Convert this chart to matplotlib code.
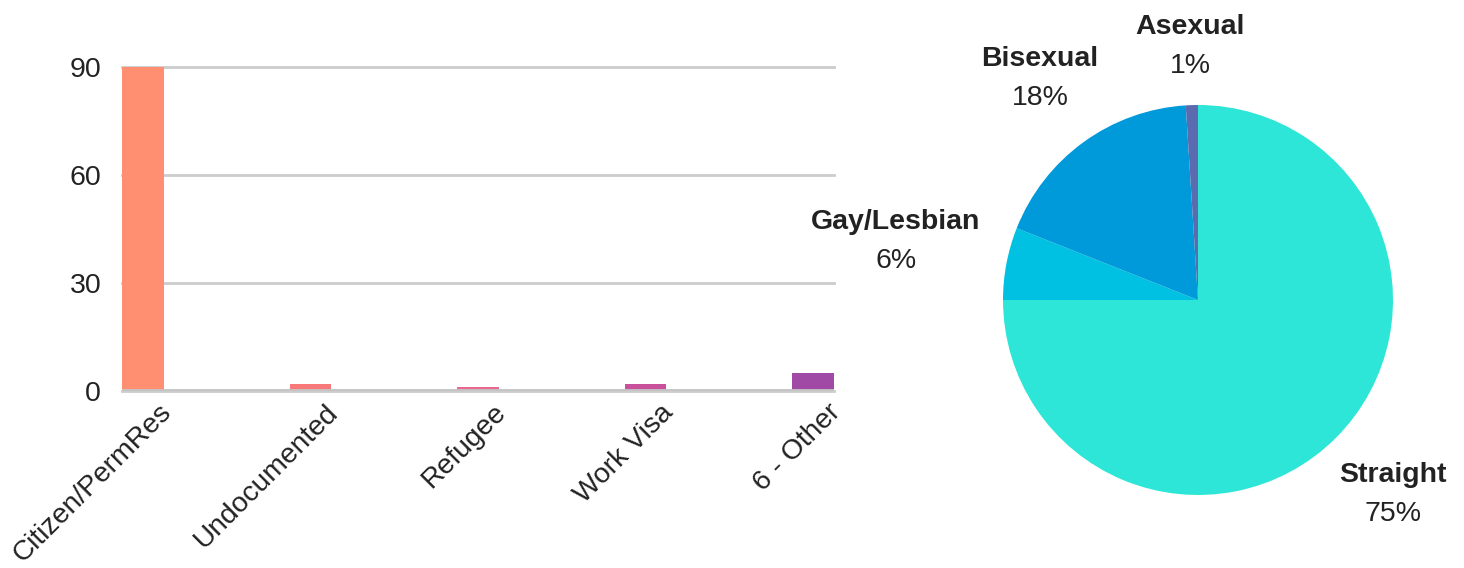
import matplotlib.pyplot as plt
import matplotlib.transforms as mtransforms

plt.rcParams['font.family'] = ['Liberation Sans', 'DejaVu Sans']

# bar chart data
status_labels = ["Citizen/PermRes", "Undocumented", "Refugee", "Work Visa", "6 - Other"]
status_counts = [90, 2, 1, 2, 5]
bar_colors = ["#ff8f70", "#f77979", "#e9688e", "#c9509b", "#a04aa6"]
y_ticks = [0, 30, 60, 90]

# pie chart data
orient_labels = ["Straight", "Gay/Lesbian", "Bisexual", "Asexual"]
orient_pct = [75, 6, 18, 1]
pie_colors = ["#2ee6d7", "#00c1e1", "#0099d9", "#5a6bb0"]
# label spots in pie units (x, y of name line)
label_spots = [(1.0, -0.895), (-1.55, 0.40), (-0.81, 1.235), (-0.04, 1.40)]

fig = plt.figure(figsize=(14.64, 5.68), dpi=100)

# ---- bars
ax = fig.add_axes([122 / 1464, 177 / 568, 712 / 1464, 324 / 568])
xs = list(range(len(status_labels)))
ax.bar(xs, status_counts, width=0.25, color=bar_colors, zorder=3)
ax.set_xlim(-0.125, len(xs) - 1 + 0.125)
ax.set_ylim(0, 90)
ax.set_yticks(y_ticks)
ax.set_yticklabels([str(t) for t in y_ticks], fontsize=20.5, color="#222222")
ax.grid(axis="y", color="#cccccc", linewidth=2, zorder=0)
for t in ax.yaxis.get_gridlines():
    t.set_clip_on(False)
ax.axhline(0, color="#c4c4c4", linewidth=3.5, zorder=4)
for s in ax.spines.values():
    s.set_visible(False)
ax.tick_params(axis="y", length=0, pad=15)
ax.tick_params(axis="x", length=0, pad=6)
ax.set_xticks(xs)
ax.set_xticklabels(status_labels, rotation=45, ha="right", va="top",
                   rotation_mode="anchor", fontsize=20.3, color="#222222")
off = mtransforms.ScaledTranslation(15 / 100, 0 / 100, fig.dpi_scale_trans)
for lbl in ax.get_xticklabels():
    lbl.set_transform(lbl.get_transform() + off)

# ---- pie
pax = fig.add_axes([1003 / 1464, 73 / 568, 390 / 1464, 390 / 568])
pax.pie(orient_pct, colors=pie_colors, startangle=90, counterclock=False,
        radius=1.0, wedgeprops=dict(linewidth=0))
pax.set_xlim(-1, 1)
pax.set_ylim(-1, 1)
pax.set_aspect("equal")
pax.axis("off")
for name, pct, (lx, ly) in zip(orient_labels, orient_pct, label_spots):
    pax.text(lx, ly, name, ha="center", va="center", fontsize=20.5,
             fontweight="bold", color="#222222", clip_on=False)
    pax.text(lx, ly - 0.2, f"{pct}%", ha="center", va="center", fontsize=20.5,
             color="#222222", clip_on=False)

fig.savefig("out.png", dpi=100, facecolor="white")
